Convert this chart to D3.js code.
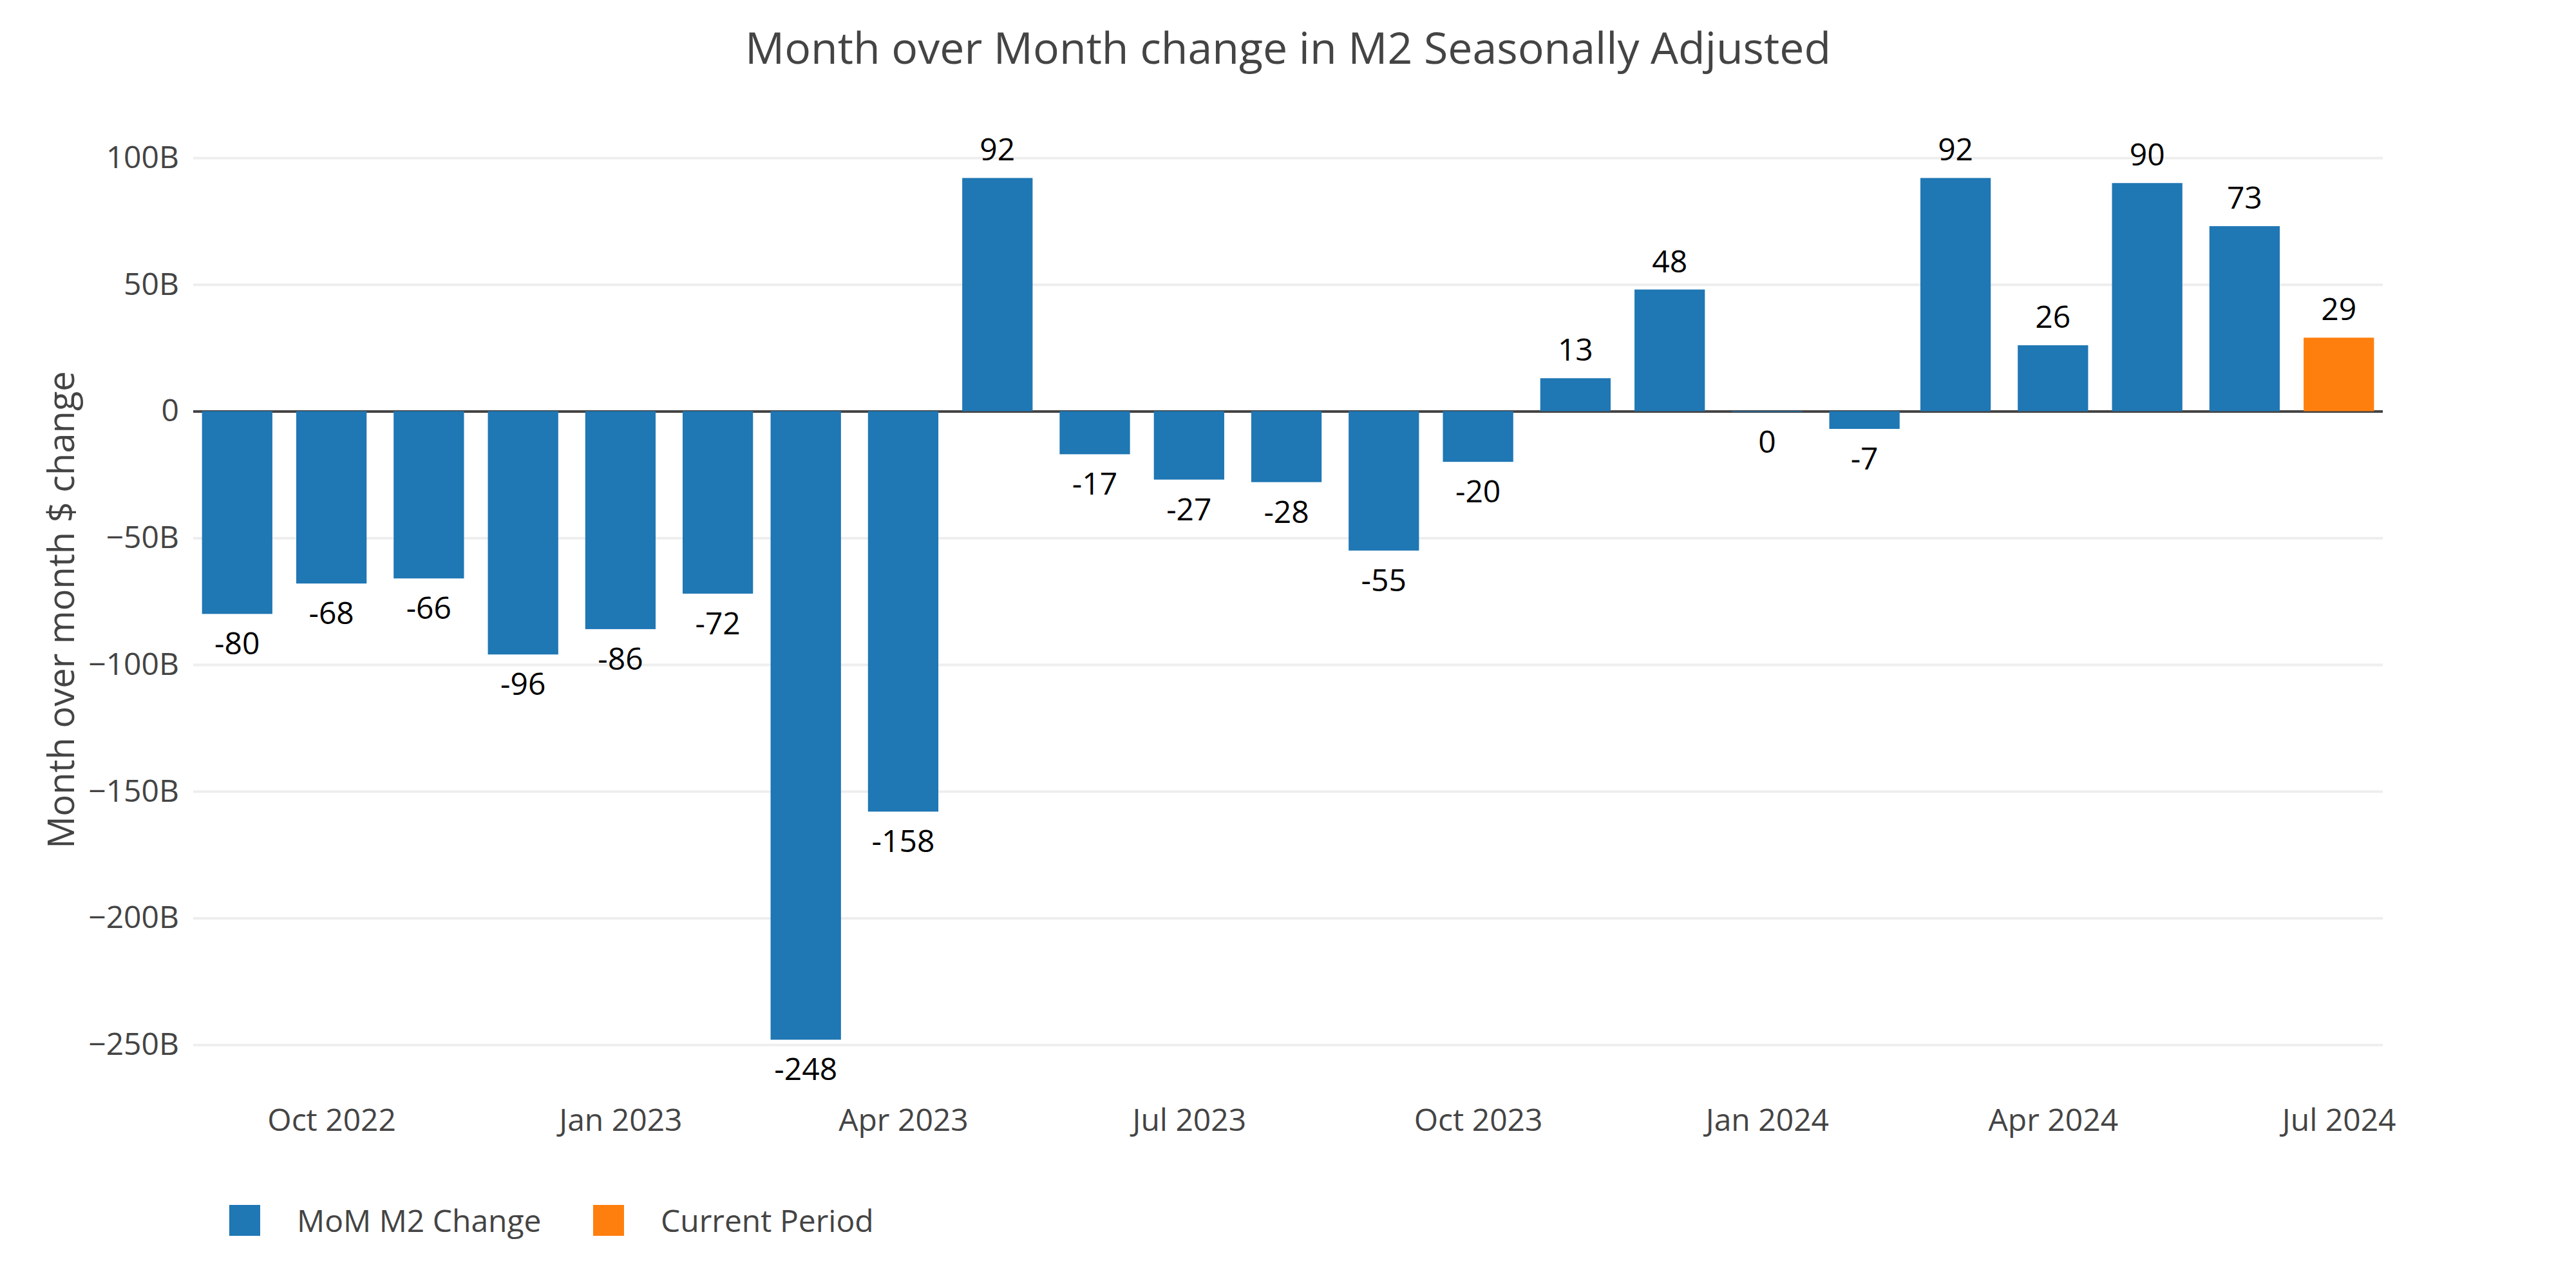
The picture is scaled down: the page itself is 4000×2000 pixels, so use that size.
<!DOCTYPE html>
<html>
<head>
<meta charset="utf-8">
<script src="https://cdn.jsdelivr.net/npm/d3@7"></script>
<style>
  body { margin: 0; background: #fff; }
  svg { display: block; font-family: "Open Sans", sans-serif; }
</style>
</head>
<body>
<div id="chart"></div>
<script>
// monthly change in M2, billions of dollars
const months = ["2022-09", "2022-10", "2022-11", "2022-12", "2023-01", "2023-02", "2023-03", "2023-04",
  "2023-05", "2023-06", "2023-07", "2023-08", "2023-09", "2023-10", "2023-11", "2023-12",
  "2024-01", "2024-02", "2024-03", "2024-04", "2024-05", "2024-06"]
const momValues = [-80, -68, -66, -96, -86, -72, -248, -158, 92, -17, -27, -28, -55, -20, 13, 48,
  -0.3, -7, 92, 26, 90, 73]

const currentMonths = ["2024-07"]
const currentValues = [29]

const yTicks = [100, 50, 0, -50, -100, -150, -200, -250]
const seriesNames = ["MoM M2 Change", "Current Period"]
const seriesColors = ["#1f77b4", "#ff7f0e"]

const W = 4000
const H = 2000
const plot = { left: 300, right: 3700, top: 202, bottom: 1692 }

const parse = d3.timeParse("%Y-%m")
const mom = months.map((m, i) => ({ date: parse(m), value: momValues[i], s: 0 }))
const cur = currentMonths.map((m, i) => ({ date: parse(m), value: currentValues[i], s: 1 }))
const all = mom.concat(cur)

const svg = d3.select("#chart").append("svg").attr("width", W).attr("height", H)

const first = d3.min(all, d => d.date)
const last = d3.max(all, d => d.date)
const x = d3.scaleTime()
  .domain([d3.timeDay.offset(first, -14), d3.timeDay.offset(last, 14)])
  .range([plot.left, plot.right])

const y = d3.scaleLinear()
  .domain([-267.7, 110.9])
  .range([plot.bottom, plot.top])

// plotly style: bar width is 0.8 of the smallest gap (28 days)
const barW = 0.8 * (x(d3.timeDay.offset(first, 28)) - x(first))

// grid
const yFmt = d => d === 0 ? "0" : (d < 0 ? "\u2212" : "") + Math.abs(d) + "B"
const yAxis = svg.append("g")
  .attr("transform", `translate(${plot.left},0)`)
  .call(d3.axisLeft(y).tickValues(yTicks).tickSize(-(plot.right - plot.left)).tickPadding(22).tickFormat(yFmt))
yAxis.select(".domain").remove()
yAxis.selectAll(".tick line").attr("stroke", "#eee").attr("stroke-width", 4)
yAxis.selectAll(".tick text").attr("fill", "#444").attr("font-size", 48).attr("font-family", "Open Sans")
  .attr("dy", "0.32em")
yAxis.selectAll(".tick").filter(d => d === 0).select("line").attr("stroke", "#444")

const xAxis = svg.append("g")
  .attr("transform", `translate(0,${plot.bottom})`)
  .call(d3.axisBottom(x).ticks(d3.timeMonth.every(3)).tickSize(0).tickPadding(30).tickFormat(d3.timeFormat("%b %Y")))
xAxis.select(".domain").remove()
xAxis.selectAll(".tick text").attr("fill", "#444").attr("font-size", 48).attr("font-family", "Open Sans")

// bars
svg.append("g").selectAll("rect")
  .data(all)
  .enter()
  .append("rect")
  .attr("x", d => x(d.date) - barW / 2)
  .attr("width", barW)
  .attr("y", d => y(Math.max(0, d.value)))
  .attr("height", d => Math.abs(y(d.value) - y(0)))
  .attr("fill", d => seriesColors[d.s])

// value labels outside the bars
svg.append("g").selectAll("text")
  .data(all)
  .enter()
  .append("text")
  .attr("x", d => x(d.date))
  .attr("y", d => d.value >= 0 ? y(d.value) - 27 : y(d.value) + 63)
  .attr("text-anchor", "middle")
  .attr("font-size", 48)
  .attr("fill", "#000")
  .text(d => String(Math.round(d.value)))

// title
svg.append("text")
  .attr("x", 2000)
  .attr("y", 99)
  .attr("text-anchor", "middle")
  .attr("font-size", 68)
  .attr("fill", "#444")
  .text("Month over Month change in M2 Seasonally Adjusted")

// y axis title
svg.append("text")
  .attr("transform", "translate(115,947) rotate(-90)")
  .attr("text-anchor", "middle")
  .attr("font-size", 56)
  .attr("fill", "#444")
  .text("Month over month $ change")

// legend
const legendX = [356, 921]
const legend = svg.append("g").selectAll("g")
  .data(seriesNames)
  .enter()
  .append("g")
  .attr("transform", (d, i) => `translate(${legendX[i]},1871)`)
legend.append("rect")
  .attr("width", 48)
  .attr("height", 48)
  .attr("fill", (d, i) => seriesColors[i])
legend.append("text")
  .attr("x", 105)
  .attr("y", 42)
  .attr("font-size", 48)
  .attr("fill", "#444")
  .text(d => d)
</script>
</body>
</html>
